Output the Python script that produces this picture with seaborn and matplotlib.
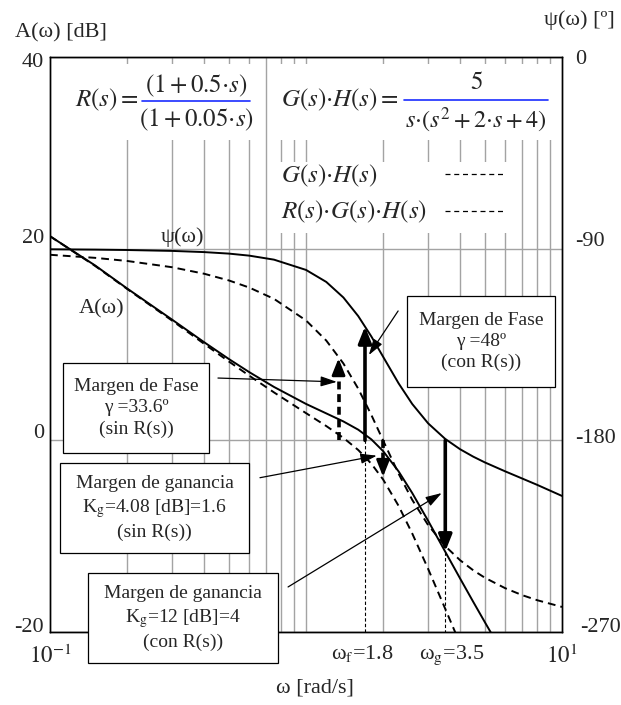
import matplotlib
matplotlib.use("Agg")
import matplotlib.pyplot as plt
import seaborn as sns
import pandas as pd
from matplotlib.patches import Rectangle
from matplotlib.lines import Line2D
from matplotlib.ticker import NullFormatter
from matplotlib.transforms import ScaledTranslation

# ---------------- data ----------------
omega = [0.1, 0.15, 0.2, 0.3, 0.4, 0.5, 0.6, 0.75, 1.0, 1.2, 1.4, 1.6, 1.8,
         2.0, 2.3, 2.6, 3.0, 3.5, 4.0, 4.5, 5.0, 6.0, 7.0, 8.0, 10.0]
mag_gh = [21.3, 18.2, 15.8, 12.49, 10.07, 8.22, 6.75, 5.00, 2.84, 1.49, 0.26,
          -1.01, -2.44, -4.08, -6.84, -9.72, -13.42, -17.59, -21.24, -24.46,
          -27.33, -32.26, -36.39, -39.94, -45.85]
mag_rgh = [21.3, 18.25, 15.85, 12.59, 10.24, 8.48, 7.12, 5.57, 3.80, 2.81, 1.97,
           1.11, 0.10, -1.12, -3.24, -5.50, -8.40, -11.63, -14.42, -16.85,
           -18.99, -22.64, -25.67, -28.28, -32.67]
phase_gh = [-92.87, -94.31, -95.77, -98.72, -101.77, -104.93, -108.25, -113.57,
            -123.69, -133.15, -143.92, -155.77, -168.08, -180.0, -195.67,
            -207.95, -219.81, -229.69, -236.31, -241.02, -244.54, -249.44,
            -252.72, -255.07, -258.23]
phase_rgh = [-90.29, -90.45, -90.63, -91.05, -91.61, -92.32, -93.27, -95.16,
             -99.98, -105.62, -112.93, -121.68, -131.23, -140.71, -153.24,
             -162.93, -172.03, -179.36, -184.19, -187.66, -190.38, -194.57,
             -197.96, -200.91, -206.11]

db_ticks = [40, 20, 0, -20]
db_tick_labels = ["40", "20", "0", "-20"]
deg_ticks = [0, -90, -180, -270]
deg_tick_labels = ["0", "-90", "-180", "-270"]
grid_omega = [0.2, 0.3, 0.4, 0.5, 0.6, 0.7, 0.8, 0.9, 1.0,
              2, 3, 4, 5, 6, 7, 8, 9]

# margin markers (positions as drawn on the chart)
omega_f = 1.7          # labelled 1.8
omega_g = 3.5
pm_con_top = -126.5    # phase at omega_f (with R)
pm_sin_omega = 1.34
pm_sin_top = -141.5
gm_sin_omega = 2.0
gm_sin_bottom = -3.8
gm_con_bottom = -11.6

df = pd.DataFrame({"omega": omega, "mag_gh": mag_gh, "mag_rgh": mag_rgh,
                   "phase_gh": phase_gh, "phase_rgh": phase_rgh})

# ---------------- style ----------------
sns.set_theme(style="white")
plt.rcParams["font.family"] = ["Liberation Serif", "DejaVu Serif"]
plt.rcParams["mathtext.fontset"] = "stix"

W, H = 621, 705
fig = plt.figure(figsize=(W / 100, H / 100), dpi=100)
fig.patch.set_facecolor("white")


def fx(px):
    return px / W


def fy(py):
    return 1 - py / H


ax = fig.add_axes([fx(50), fy(632), 512 / W, 575 / H])
ax.set_facecolor("white")
ax.set_xscale("log")
ax.set_xlim(0.1, 10)
ax.set_ylim(-20, 40)
ax.set_axisbelow(True)

ax2 = ax.twinx()
ax2.set_ylim(-270, 0)

for a in (ax, ax2):
    for s in a.spines.values():
        s.set_color("black")
        s.set_linewidth(1.0)

# ticks and grid
ax.set_xticks([0.1, 10])
ax.set_xticklabels([r"$10^{-1}$", r"$10^{1}$"])
ax.set_xticks(grid_omega, minor=True)
ax.xaxis.set_minor_formatter(NullFormatter())
ax.tick_params(axis="x", which="both", length=0, pad=9, labelsize=16.5)
ax.set_yticks(db_ticks)
ax.tick_params(axis="y", which="both", length=0, labelleft=False)
ax.grid(False)
ax.xaxis.grid(True, which="minor", color="#a3a3a3", lw=1.0)
ax.yaxis.grid(True, which="major", color="#a3a3a3", lw=1.0)
ax2.set_yticks(deg_ticks)
ax2.tick_params(axis="y", length=0, labelright=False)
ax2.grid(False)

# manual y tick labels (positions offset as in the chart)
left_dy = [5.5, -10, -7, -5]
for v, lab, dy in zip(db_ticks, db_tick_labels, left_dy):
    tr = ax.get_yaxis_transform() + ScaledTranslation(-6 / 100, -dy / 100, fig.dpi_scale_trans)
    ax.text(0, v, lab, transform=tr, ha="right", va="center", fontsize=16, clip_on=False)
right_dy = [3, -7, -2, -5]
right_dx = [13, 13, 13, 18]
for v, lab, dy, dx in zip(deg_ticks, deg_tick_labels, right_dy, right_dx):
    tr = ax2.get_yaxis_transform() + ScaledTranslation(dx / 100, -dy / 100, fig.dpi_scale_trans)
    ax2.text(1, v, lab, transform=tr, ha="left", va="center", fontsize=16, clip_on=False)

# white areas behind formula texts (hide grid)
for (x0, y0, x1, y1) in [(52, 64, 262, 140), (270, 64, 555, 140), (270, 162, 512, 233)]:
    ax.add_patch(Rectangle((fx(x0), fy(y1)), fx(x1) - fx(x0), fy(y0) - fy(y1),
                           transform=fig.transFigure, facecolor="white",
                           edgecolor="none", zorder=1, clip_on=False))

# ---------------- curves ----------------
dash = (0, (4, 2.6))
sns.lineplot(data=df, x="omega", y="mag_rgh", ax=ax, color="black", lw=1.4, sort=False)
sns.lineplot(data=df, x="omega", y="mag_gh", ax=ax, color="black", lw=1.4,
             linestyle=dash, sort=False)
sns.lineplot(data=df, x="omega", y="phase_rgh", ax=ax2, color="black", lw=1.4, sort=False)
sns.lineplot(data=df, x="omega", y="phase_gh", ax=ax2, color="black", lw=1.4,
             linestyle=dash, sort=False)
ax.set_xlabel("")
ax.set_ylabel("")
ax2.set_ylabel("")

# thin dashed verticals at omega_f and omega_g
ax.plot([omega_f, omega_f], [0, -20], color="black", lw=0.8, ls=(0, (3, 2)))
ax.plot([omega_g, omega_g], [gm_con_bottom, -20], color="black", lw=0.8, ls=(0, (3, 2)))

# thick margin arrows
head = "-|>,head_length=0.55,head_width=0.22"
ax2.annotate("", xy=(omega_f, pm_con_top), xytext=(omega_f, -180),
             arrowprops=dict(arrowstyle=head, lw=2.6, color="black",
                             mutation_scale=18, shrinkA=0, shrinkB=0))
ax.annotate("", xy=(omega_g, gm_con_bottom), xytext=(omega_g, 0),
            arrowprops=dict(arrowstyle=head, lw=2.6, color="black",
                            mutation_scale=18, shrinkA=0, shrinkB=0))
# dashed thick arrows
ax2.plot([pm_sin_omega, pm_sin_omega], [-180, pm_sin_top - 4], color="black",
         lw=2.6, ls=(0, (2.2, 1.3)))
ax2.annotate("", xy=(pm_sin_omega, pm_sin_top), xytext=(0, -9), textcoords="offset points",
             xycoords="data",
             arrowprops=dict(arrowstyle=head, lw=2.0, color="black",
                             mutation_scale=18, shrinkA=0, shrinkB=0))
ax.plot([gm_sin_omega, gm_sin_omega], [0, gm_sin_bottom + 1.2], color="black",
        lw=2.6, ls=(0, (2.2, 1.3)))
ax.annotate("", xy=(gm_sin_omega, gm_sin_bottom), xytext=(0, 9), textcoords="offset points",
            arrowprops=dict(arrowstyle=head, lw=2.0, color="black",
                            mutation_scale=18, shrinkA=0, shrinkB=0))

# ---------------- annotation boxes ----------------
box_fs = 14
boxes = [
    ((63, 363, 209, 453), "Margen de Fase\nγ =33.6º\n(sin R(s))"),
    ((60, 463, 249, 553), "Margen de ganancia\nK$_{\\mathrm{g}}$=4.08 [dB]=1.6\n(sin R(s))"),
    ((88, 573, 278, 663), "Margen de ganancia\nK$_{\\mathrm{g}}$=12 [dB]=4\n(con R(s))"),
    ((407, 296, 555, 387), "Margen de Fase\nγ =48º\n(con R(s))"),
]
for (x0, y0, x1, y1), txt in boxes:
    fig.add_artist(Rectangle((fx(x0), fy(y1)), fx(x1) - fx(x0), fy(y0) - fy(y1),
                             transform=fig.transFigure, facecolor="white",
                             edgecolor="black", lw=0.9, zorder=2))
    fig.text(fx((x0 + x1) / 2), fy((y0 + y1) / 2), txt, ha="center", va="center",
             fontsize=box_fs, linespacing=1.3, zorder=3)

# pointer arrows (tail -> tip, in data coordinates of the dB axis)
pointers = [((0.453, 6.5), (1.32, 6.1)),
            ((0.661, -3.9), (1.89, -1.6)),
            ((0.851, -15.3), (3.39, -5.5)),
            ((2.29, 13.5), (1.76, 8.9))]
for tail, tip in pointers:
    ax.annotate("", xy=tip, xytext=tail,
                arrowprops=dict(arrowstyle="-|>,head_length=0.7,head_width=0.22",
                                lw=0.9, color="black", mutation_scale=14,
                                shrinkA=0, shrinkB=0))

# ---------------- texts ----------------
fig.text(fx(15), fy(33), "A(ω) [dB]", ha="left", va="center", fontsize=16)
fig.text(fx(615), fy(20), "ψ(ω) [º]", ha="right", va="center", fontsize=16)
fig.text(fx(182), fy(237), "ψ(ω)", ha="center", va="center", fontsize=16)
fig.text(fx(102), fy(309), "A(ω)", ha="center", va="center", fontsize=16)
fig.text(fx(362), fy(653), "ω$_{\\mathrm{f}}$=1.8", ha="center", va="center", fontsize=16)
fig.text(fx(452), fy(655), "ω$_{\\mathrm{g}}$=3.5", ha="center", va="center", fontsize=16)
fig.text(fx(315), fy(688), "ω [rad/s]", ha="center", va="center", fontsize=16)

# equations
eq_fs = 18
fig.text(fx(139), fy(100), r"$R(s)=$", ha="right", va="center", fontsize=eq_fs)
fig.text(fx(196), fy(86), r"$(1+0.5{\cdot}s)$", ha="center", va="center", fontsize=eq_fs)
fig.text(fx(196), fy(120), r"$(1+0.05{\cdot}s)$", ha="center", va="center", fontsize=eq_fs)
fig.add_artist(Line2D([fx(142), fx(250)], [fy(101), fy(101)], color="#1a2cff", lw=1.2))

fig.text(fx(399), fy(100), r"$G(s){\cdot}H(s)=$", ha="right", va="center", fontsize=eq_fs)
fig.text(fx(476), fy(83), r"$5$", ha="center", va="center", fontsize=eq_fs)
fig.text(fx(476), fy(120), r"$s{\cdot}(s^2+2{\cdot}s+4)$", ha="center", va="center", fontsize=17.5)
fig.add_artist(Line2D([fx(404), fx(548)], [fy(100), fy(100)], color="#1a2cff", lw=1.2))

# legend
fig.text(fx(281), fy(176), r"$G(s){\cdot}H(s)$", ha="left", va="center", fontsize=eq_fs)
fig.text(fx(281), fy(212), r"$R(s){\cdot}G(s){\cdot}H(s)$", ha="left", va="center", fontsize=eq_fs)
for yy in (174, 211):
    fig.add_artist(Line2D([fx(445), fx(505)], [fy(yy), fy(yy)], color="black",
                          lw=0.9, ls=(0, (4, 3))))

fig.savefig("out.png", dpi=100, facecolor="white")
